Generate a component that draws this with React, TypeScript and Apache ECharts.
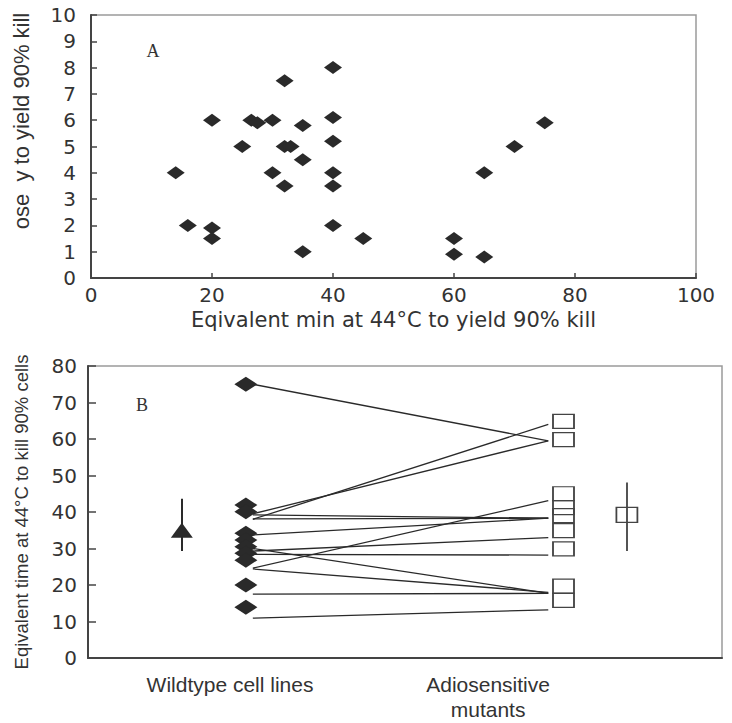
import React, { useEffect, useRef } from "react";
import * as echarts from "echarts";

// Panel A: scatter data
const doseX = [20, 26.5, 27.5, 30, 40, 32, 40, 35, 25, 32, 33, 40, 35, 14, 30, 40, 32, 40, 16, 20, 20, 40, 45, 35, 75, 70, 65, 60, 60, 65];
const doseY = [6, 6, 5.9, 6, 8, 7.5, 6.1, 5.8, 5, 5, 5, 5.2, 4.5, 4, 4, 4, 3.5, 3.5, 2, 1.9, 1.5, 2, 1.5, 1, 5.9, 5, 4, 1.5, 0.9, 0.8];

// Panel B: values
const wildtypeValues = [75, 41.9, 40.1, 34.2, 32.3, 30.5, 28.7, 26.8, 20, 13.9];
const mutantValues = [64.8, 59.8, 45, 41.2, 39, 34.9, 29.9, 19.7, 15.8];
const pairStart = [75, 38, 39.5, 39.2, 38.1, 33.7, 29.3, 28.4, 30, 24.6, 24.4, 17.5, 10.9];
const pairEnd = [59.5, 64, 59.5, 38.3, 38.3, 38.3, 33, 28.2, 17.7, 43.1, 18, 17.7, 13.2];
const wtMean = 35, wtLow = 29.3, wtHigh = 43.6;
const mutMean = 39.2, mutLow = 29.3, mutHigh = 48.1;

const categoryLabels = ["Wildtype cell lines", "Adiosensitive\nmutants"];
const xTitleA = "Eqivalent min at 44°C to yield 90% kill";
const yTitleA = "ose  y to yield 90% kill";
const yTitleB = "Eqivalent time at 44°C to kill 90% cells";

// positions along the (hidden) x scale of panel B
const POS_WT_MEAN = 1.48;
const POS_WT = 2.49;
const POS_MUT = 7.5;
const POS_MUT_MEAN = 8.5;
const LINE_START = 2.6;
const LINE_END = 7.26;
const LABEL_POS = [2.24, 6.31];

const DARK = "#2a2a2a";
const TEXT = "#333";
const AXIS = "#444";
const BORDER = "#9a9a9a";
const TICK_FONT = "DejaVu Sans";

export default function App() {
  const ref = useRef<HTMLDivElement>(null);
  useEffect(() => {
    if (!ref.current) return;
    const chart = echarts.init(ref.current, null, { renderer: "svg" });
    const axisLine = { show: true, lineStyle: { color: AXIS, width: 2 } };
    const option = {
      animation: false,
      backgroundColor: "#fff",
      grid: [
        { left: 91, top: 15, width: 605, height: 263, show: true, borderColor: BORDER, borderWidth: 1.5 },
        { left: 88, top: 366, width: 634, height: 292, show: true, borderColor: BORDER, borderWidth: 1.5 },
      ],
      xAxis: [
        {
          gridIndex: 0, type: "value", min: 0, max: 100, interval: 20,
          axisLine, axisTick: { show: true, inside: true, length: 5, lineStyle: { color: AXIS, width: 1.5 } },
          splitLine: { show: false },
          axisLabel: { fontFamily: TICK_FONT, fontSize: 20, color: TEXT, margin: 7 },
          name: xTitleA, nameLocation: "middle", nameGap: 31,
          nameTextStyle: { fontFamily: TICK_FONT, fontSize: 21, color: TEXT },
        },
        {
          gridIndex: 1, type: "value", min: 0, max: 10,
          axisLine, axisTick: { show: false }, splitLine: { show: false },
          axisLabel: {
            customValues: LABEL_POS,
            formatter: (v: number) => (v < 4 ? categoryLabels[0] : categoryLabels[1]),
            fontFamily: "Liberation Sans", fontSize: 21, lineHeight: 25, color: TEXT, margin: 14,
          },
        },
      ],
      yAxis: [
        {
          gridIndex: 0, type: "value", min: 0, max: 10, interval: 1,
          axisLine, axisTick: { show: true, inside: true, length: 6, lineStyle: { color: AXIS, width: 1.5 } },
          splitLine: { show: false },
          axisLabel: { fontFamily: TICK_FONT, fontSize: 20, color: TEXT, margin: 15 },
        },
        {
          gridIndex: 1, type: "value", min: 0, max: 80, interval: 10,
          axisLine, axisTick: { show: true, inside: true, length: 8, lineStyle: { color: AXIS, width: 1.5 } },
          splitLine: { show: false },
          axisLabel: { fontFamily: TICK_FONT, fontSize: 20, color: TEXT, margin: 11 },
          name: yTitleB, nameLocation: "middle", nameGap: 57,
          nameTextStyle: { fontFamily: "Liberation Sans", fontSize: 18.5, color: TEXT },
        },
      ],
      series: [
        {
          type: "scatter", xAxisIndex: 0, yAxisIndex: 0,
          symbol: "diamond", symbolSize: [18, 13],
          itemStyle: { color: DARK, opacity: 1 },
          data: doseX.map((x, i) => [x, doseY[i]]),
        },
        {
          type: "lines", coordinateSystem: "cartesian2d", xAxisIndex: 1, yAxisIndex: 1, z: 2,
          lineStyle: { color: DARK, width: 1.3, opacity: 1 },
          data: pairStart.map((s, i) => ({ coords: [[LINE_START, s], [LINE_END, pairEnd[i]]] })),
        },
        {
          type: "lines", coordinateSystem: "cartesian2d", xAxisIndex: 1, yAxisIndex: 1, z: 2,
          lineStyle: { color: DARK, width: 2, opacity: 1 },
          data: [{ coords: [[POS_WT_MEAN, wtLow], [POS_WT_MEAN, wtHigh]] }],
        },
        {
          type: "lines", coordinateSystem: "cartesian2d", xAxisIndex: 1, yAxisIndex: 1, z: 2,
          lineStyle: { color: DARK, width: 1.6, opacity: 1 },
          data: [{ coords: [[POS_MUT_MEAN, mutLow], [POS_MUT_MEAN, mutHigh]] }],
        },
        {
          type: "scatter", xAxisIndex: 1, yAxisIndex: 1, z: 3,
          symbol: "diamond", symbolSize: [23, 15],
          itemStyle: { color: DARK, opacity: 1 },
          data: wildtypeValues.map((v) => [POS_WT, v]),
        },
        {
          type: "scatter", xAxisIndex: 1, yAxisIndex: 1, z: 3,
          symbol: "triangle", symbolSize: [22, 15],
          itemStyle: { color: DARK, opacity: 1 },
          data: [[POS_WT_MEAN, wtMean]],
        },
        {
          type: "scatter", xAxisIndex: 1, yAxisIndex: 1, z: 3,
          symbol: "rect", symbolSize: [21, 14],
          itemStyle: { color: "rgba(255,255,255,0)", borderColor: AXIS, borderWidth: 1.5, opacity: 1 },
          data: mutantValues.map((v) => [POS_MUT, v]),
        },
        {
          type: "scatter", xAxisIndex: 1, yAxisIndex: 1, z: 3,
          symbol: "rect", symbolSize: [21, 15],
          itemStyle: { color: "rgba(255,255,255,0)", borderColor: AXIS, borderWidth: 1.5, opacity: 1 },
          data: [[POS_MUT_MEAN, mutMean]],
        },
      ],
      graphic: [
        {
          type: "text", x: 153, y: 51,
          style: { text: "A", fontFamily: "Liberation Serif", fontSize: 18, fill: TEXT, align: "center", verticalAlign: "middle" },
        },
        {
          type: "text", x: 142, y: 405,
          style: { text: "B", fontFamily: "Liberation Serif", fontSize: 18, fill: TEXT, align: "center", verticalAlign: "middle" },
        },
        {
          type: "text", x: 21, y: 121, rotation: Math.PI / 2,
          style: { text: yTitleA, fontFamily: "Liberation Sans", fontSize: 22, fill: TEXT, align: "center", verticalAlign: "middle" },
        },
      ],
    };
    chart.setOption(option as any);
    return () => chart.dispose();
  }, []);
  return (
    <div
      ref={ref}
      style={{ position: "fixed", left: 0, top: 0, width: 732, height: 723, background: "#fff" }}
    />
  );
}
